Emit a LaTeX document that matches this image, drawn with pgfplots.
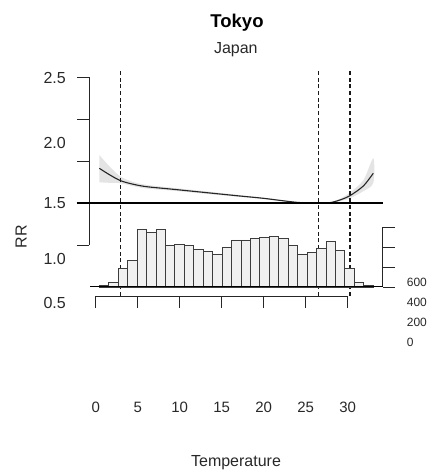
\documentclass[border=0pt]{standalone}
\usepackage{fontspec}
\setmainfont{Liberation Sans}
\usepackage{pgfplots}
\pgfplotsset{compat=1.18}
\definecolor{band}{RGB}{228,228,228}
\definecolor{barfill}{RGB}{240,240,240}
\definecolor{bardraw}{RGB}{60,60,60}
\definecolor{txt}{RGB}{40,40,40}
\begin{document}
\begin{tikzpicture}[x=1pt,y=1pt]
\path[use as bounding box] (0,0) rectangle (432,471);
% ---- RR curve axis ----
\begin{axis}[
  at={(89pt,226pt)}, anchor=south west, scale only axis,
  width=293.7pt, height=168pt,
  xmin=-0.798, xmax=34.17, ymin=0.5, ymax=2.5,
  axis x line=none, axis y line*=left,
  ytick={0.5,1,1.5,2,2.5}, yticklabels={},
  tick align=outside, major tick length=12pt,
  axis line style={black!85, line width=0.8pt},
  every tick/.style={black!85, line width=0.8pt},
  clip=false]
\addplot[fill=band, draw=none, smooth] coordinates {
 (0.43,1.571) (1.70,1.43) (2.98,1.313) (4.48,1.25) (6.07,1.215) (9.24,1.18)
 (13.21,1.138) (17.18,1.094) (19.95,1.064) (23.93,1.012) (26.5,1.000)
 (27.89,1.008) (29.08,1.05) (30.27,1.125) (31.86,1.27) (33.05,1.532)
 (33.05,1.238) (31.86,1.14) (30.27,1.056) (29.08,1.022) (27.89,1.000)
 (26.5,1.000) (23.93,1.004) (19.95,1.048) (17.18,1.072) (13.21,1.108)
 (9.24,1.146) (6.07,1.172) (4.48,1.20) (2.98,1.235) (1.70,1.24) (0.43,1.246)} -- cycle;
\addplot[black!85, line width=1.1pt, smooth] coordinates {
 (0.43,1.413) (1.70,1.333) (2.98,1.265) (4.48,1.223) (6.07,1.194) (9.24,1.163)
 (13.21,1.123) (17.18,1.083) (19.95,1.056) (23.93,1.008) (26.5,1.000)
 (27.89,1.004) (29.08,1.036) (30.27,1.087) (31.86,1.202) (33.05,1.354)};
\addplot[black, line width=1.1pt] coordinates {(-2.26,1) (34.24,1)};
\addplot[black!90, line width=1.3pt, dash pattern=on 4pt off 2.7pt] coordinates {(2.98,-0.107) (2.98,2.583)};
\addplot[black!90, line width=1.3pt, dash pattern=on 4pt off 2.7pt] coordinates {(26.5,-0.107) (26.5,2.583)};
\addplot[black!90, line width=1.3pt, dash pattern=on 4pt off 2.7pt] coordinates {(30.27,-0.107) (30.27,2.583)};
\end{axis}
% ---- histogram axis ----
\begin{axis}[
  at={(89pt,184pt)}, anchor=south west, scale only axis,
  width=293.7pt, height=60pt,
  xmin=-0.798, xmax=34.17, ymin=0, ymax=600,
  axis x line=none, axis y line*=right,
  ytick={0,200,400,600}, yticklabels={},
  tick align=outside, major tick length=12pt,
  axis line style={black!85, line width=0.8pt},
  every tick/.style={black!85, line width=0.8pt},
  clip=false]
\addplot[ybar interval, fill=barfill, draw=bardraw, line width=0.8pt] coordinates {
 (0.432,15) (1.556,47) (2.681,187) (3.805,263) (4.929,577) (6.054,547)
 (7.178,577) (8.302,420) (9.427,427) (10.551,417) (11.675,380) (12.799,360)
 (13.924,330) (15.048,393) (16.172,470) (17.297,470) (18.421,487) (19.545,497)
 (20.669,507) (21.794,487) (22.918,413) (24.042,330) (25.167,343) (26.291,383)
 (27.415,453) (28.540,367) (29.664,187) (30.788,50) (31.912,13) (33.037,13)};
\addplot[black, line width=1pt] coordinates {(-0.67,0) (34.17,0)};
\end{axis}
% ---- bottom temperature axis ----
\begin{axis}[
  at={(95.7pt,175pt)}, anchor=south west, scale only axis,
  width=252pt, height=10pt,
  xmin=0, xmax=30, ymin=0, ymax=1,
  axis y line=none, axis x line*=bottom,
  xtick={0,5,10,15,20,25,30}, xticklabels={0,5,10,15,20,25,30},
  tick align=outside, major tick length=12pt,
  axis line style={black!85, line width=0.8pt},
  every tick/.style={black!85, line width=0.8pt},
  xticklabel style={anchor=center, yshift=-99pt, font=\fontsize{15}{17}\selectfont, text=txt}]
\addplot[draw=none] coordinates {(0,0) (30,0)};
\end{axis}
% ---- texts ----
\node[anchor=base, font=\bfseries\fontsize{18.5}{20}\selectfont] at (237,443.7) {Tokyo};
\node[anchor=base, font=\fontsize{16}{18}\selectfont, text=txt] at (235.8,417.7) {Japan};
\begin{scope}[every node/.style={anchor=east, inner sep=0pt, font=\fontsize{16}{18}\selectfont, text=txt}]
\node at (66,393) {2.5};
\node at (66,328) {2.0};
\node at (66,268) {1.5};
\node at (66,212) {1.0};
\node at (66,168) {0.5};
\end{scope}
\begin{scope}[every node/.style={anchor=west, inner sep=0pt, font=\fontsize{12}{14}\selectfont, text=txt}]
\node at (406.7,189) {600};
\node at (406.7,169) {400};
\node at (406.7,149) {200};
\node at (406.7,129) {0};
\end{scope}
\node[rotate=90, font=\fontsize{16}{18}\selectfont, text=txt] at (21,234) {RR};
\node[anchor=base, font=\fontsize{16}{18}\selectfont, text=txt] at (236,4.3) {Temperature};
\end{tikzpicture}
\end{document}
